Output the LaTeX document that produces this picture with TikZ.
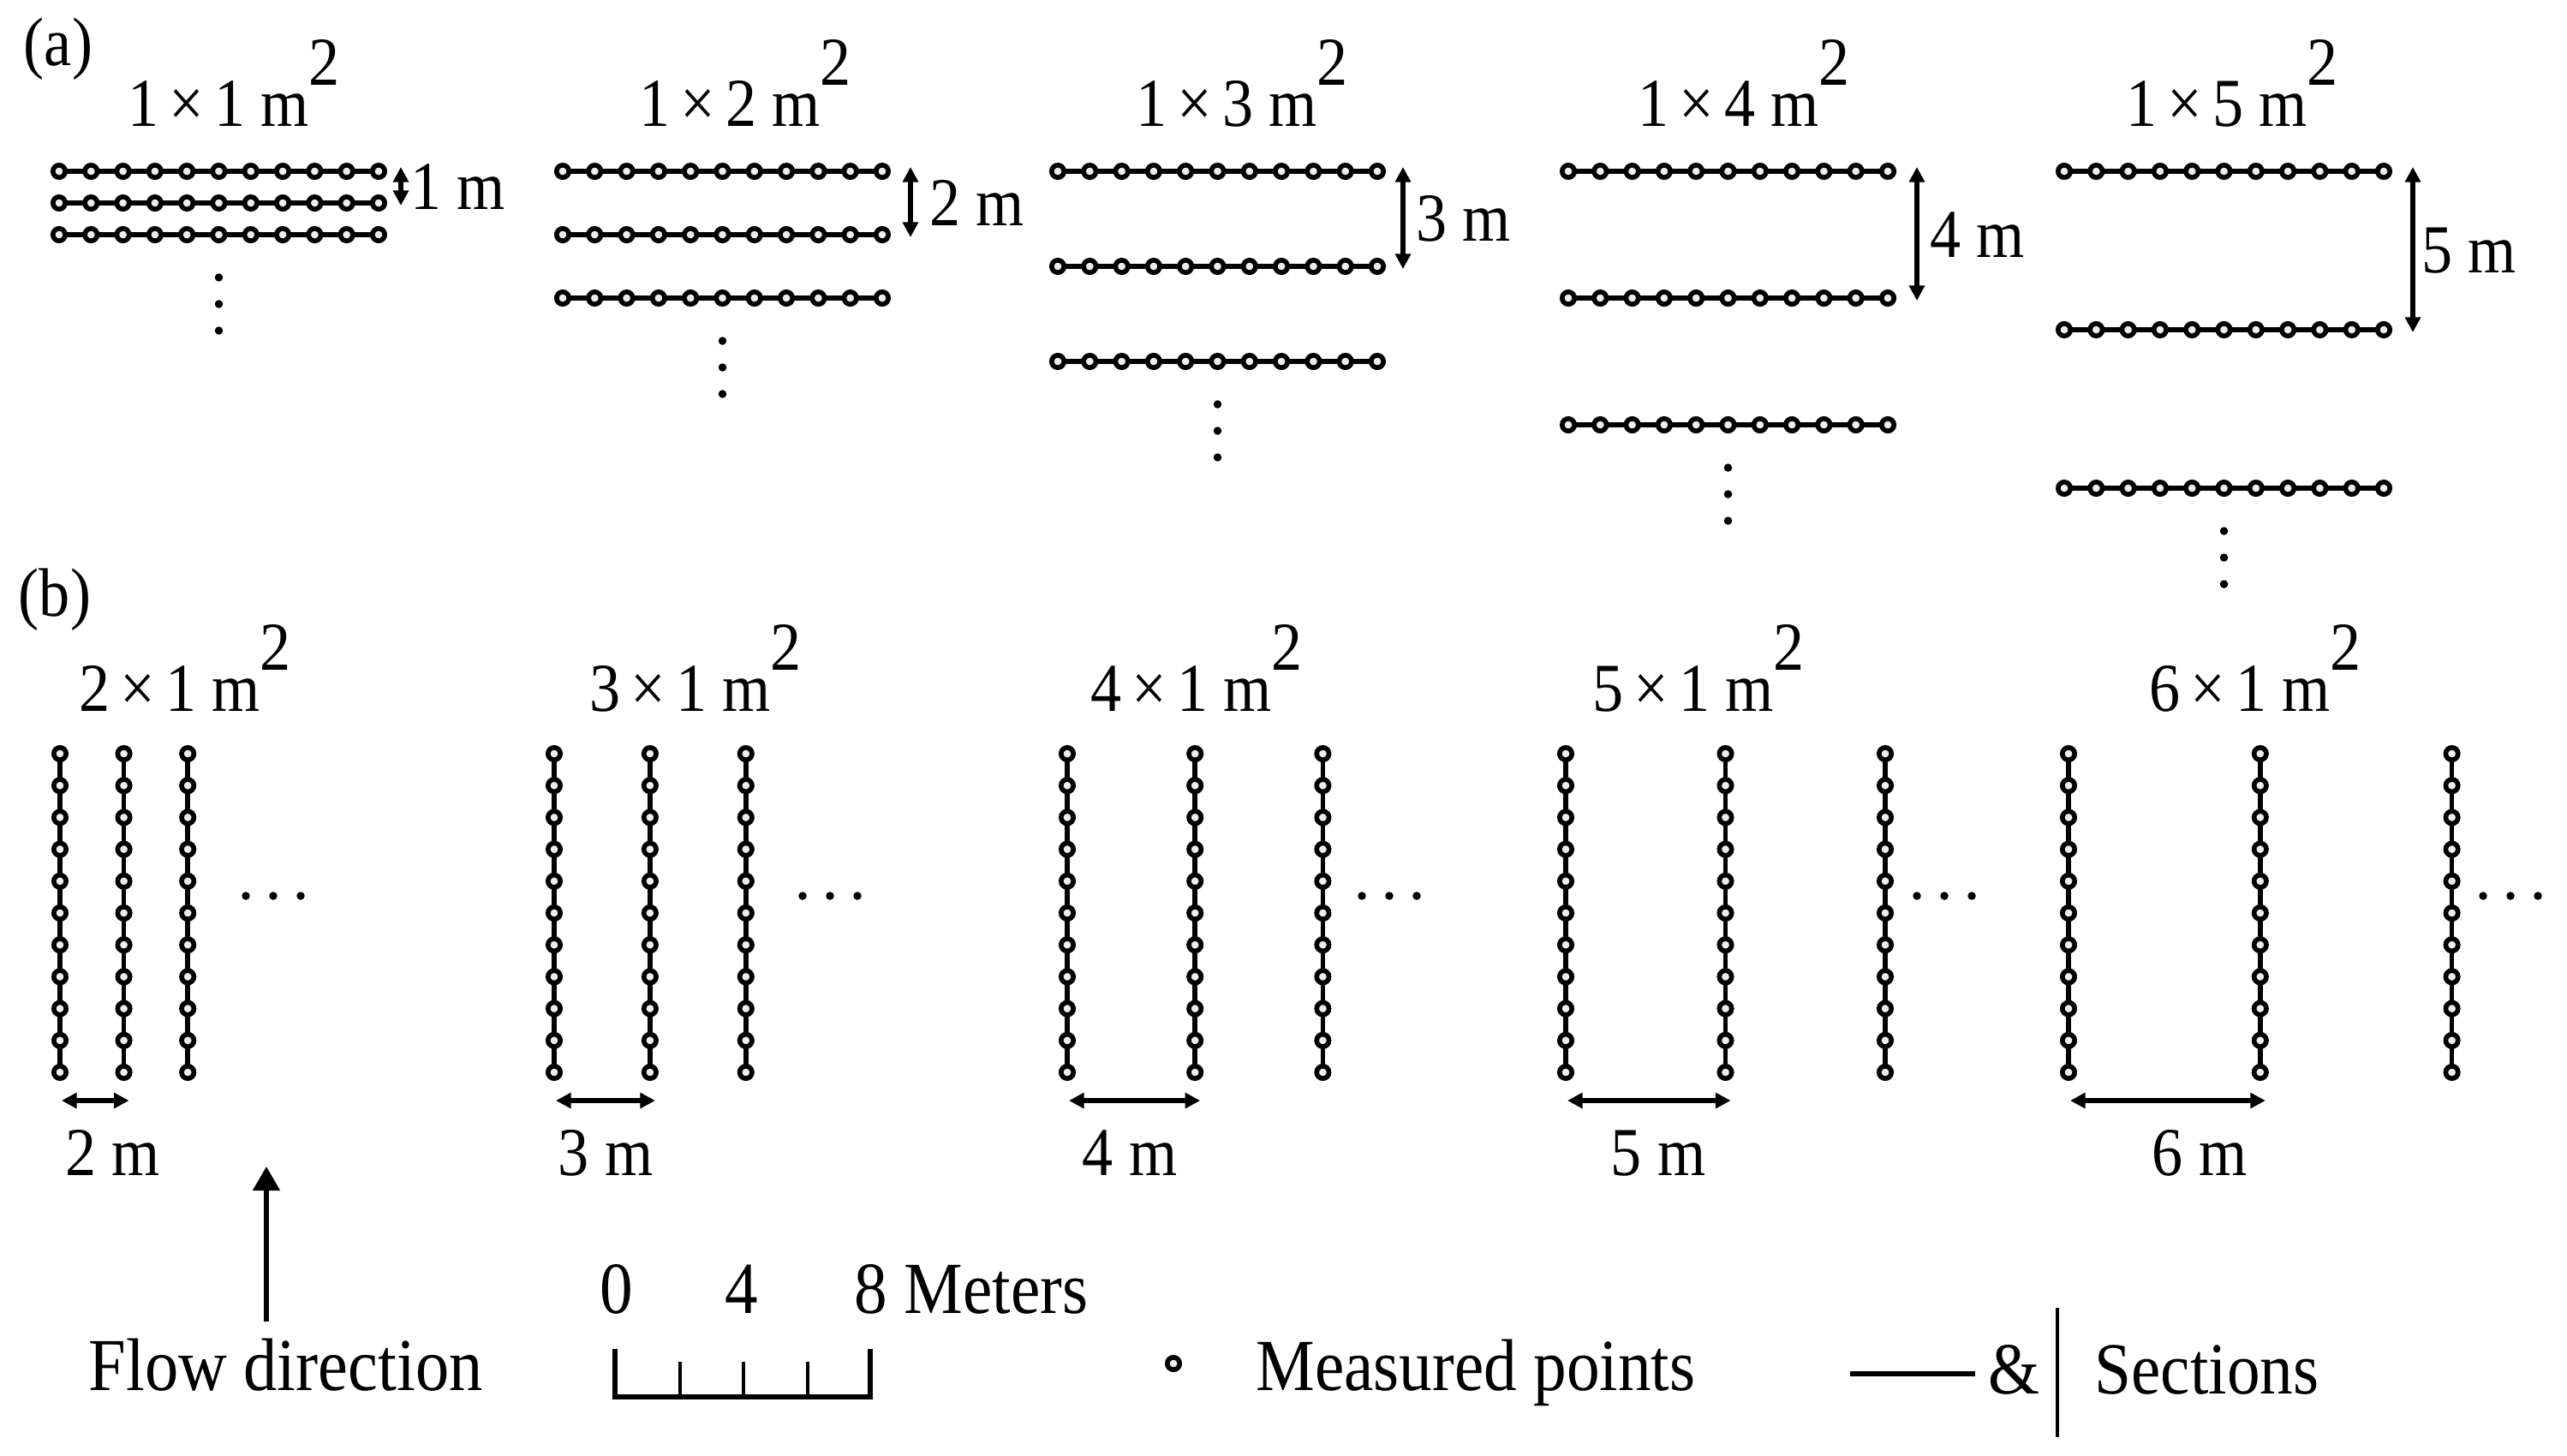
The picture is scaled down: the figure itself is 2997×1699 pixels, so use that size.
\documentclass[tikz,border=0pt]{standalone}
\usepackage{fontspec}
\setmainfont[FakeStretch=0.9]{Liberation Serif}
\usetikzlibrary{arrows.meta}
\newcommand\labfont{\fontsize{22.8}{26}\selectfont}
\newcommand\legfont{\fontsize{24.4}{28}\selectfont}
\newcommand\flowfont{\fontsize{24.8}{28}\selectfont}
\newcommand\areatitle[2]{#1\hspace{0.15em}×\hspace{0.15em}#2 m\raisebox{0.59em}{2}}
\tikzset{
  conn/.style={line width=1.6pt},
  pt/.style={line width=1.6pt, draw=black, fill=gray!14},
  lab/.style={font=\labfont, inner sep=0pt},
  leg/.style={font=\legfont, inner sep=0pt},
  dimar/.style={line width=1.5pt, {Triangle[length=5pt,width=5pt]}-{Triangle[length=5pt,width=5pt]}},
  dimarb/.style={line width=1.9pt, {Triangle[length=5pt,width=5pt]}-{Triangle[length=5pt,width=5pt]}},
  flowar/.style={line width=1.5pt, -{Triangle[length=8pt,width=8.8pt]}},
}
\begin{document}
\begin{tikzpicture}[x=0.01cm,y=-0.01cm]
\useasboundingbox (0,0) rectangle (2997,1699);
% panel labels
\node[lab] (pa) at (68,57) {(a)};
\node[lab] (pb) at (64,700) {(b)};
% ---------------- part (a)
\foreach \gx/\gn/\gax/\glx/\gtx in {69/1/468/479/149, 657/2/1063/1085/746, 1235/3/1638/1653/1326, 1831/4/2238/2253/1912, 2410/5/2817/2827/2482}{
  \pgfmathsetmacro\gsp{37*\gn}
  \foreach \r in {0,1,2}{
    \pgfmathsetmacro\yy{200+\gsp*\r}
    \draw[conn] (\gx,\yy) -- ++(373,0);
    \foreach \i in {0,...,10}{\draw[pt] (\gx+37.3*\i,\yy) circle[radius=2.05pt];}
  }
  \foreach \k in {0,1,2}{\fill (\gx+186.5,200+2*\gsp+50+31*\k) circle[radius=1.35pt];}
  \coordinate (at\gn) at (\gax,195);
  \coordinate (ab\gn) at (\gax,200+\gsp+3);
  \draw[dimar] (at\gn) -- (ab\gn);
  \node[lab, anchor=west] (al\gn) at (\glx,200+\gsp/2) {\gn\ m};
  \node[lab, anchor=base west] (ta\gn) at (\gtx,147) {\areatitle{1}{\gn}};
}
% ---------------- part (b)
\foreach \gx/\gn/\gex/\glc/\gtx in {70/2/287/132/92, 647/3/937/707/688, 1246/4/1590/1319/1273, 1828/5/2238/1936/1859, 2415/6/2899/2568/2509}{
  \pgfmathsetmacro\gsp{37.3*\gn}
  \foreach \c in {0,1,2}{
    \pgfmathsetmacro\xx{\gx+\gsp*\c}
    \draw[conn] (\xx,880) -- (\xx,1252);
    \foreach \i in {0,...,10}{\draw[pt] (\xx,880+37.2*\i) circle[radius=2.05pt];}
  }
  \foreach \k in {0,1,2}{\fill (\gex+32*\k,1046) circle[radius=1.35pt];}
  \coordinate (bl\gn) at (\gx+2,1285);
  \coordinate (br\gn) at (\gx+\gsp+6,1285);
  \draw[dimarb] (bl\gn) -- (br\gn);
  \node[lab, anchor=base] (bm\gn) at (\glc,1372) {\gn\ m};
  \node[lab, anchor=base west] (tb\gn) at (\gtx,830) {\areatitle{\gn}{1}};
}
% ---------------- legend
\node[font=\flowfont, inner sep=0pt, anchor=base west] (flow) at (103,1623) {Flow direction};
\coordinate (fb) at (311,1543);
\coordinate (ft) at (311,1362);
\draw[flowar] (fb) -- (ft);
\node[leg, anchor=base] (s0) at (720,1533) {0};
\node[leg, anchor=base] (s4) at (866,1533) {4};
\node[leg, anchor=base west] (s8) at (997,1533) {8 Meters};
\draw[line width=1.6pt] (718,1575) -- (718,1631) -- (1016,1631) -- (1016,1575);
\foreach \x in {794,868,943}{\draw[line width=1.2pt] (\x,1590) -- (\x,1631);}
\draw[pt] (1370,1592) circle[radius=2.05pt];
\node[leg, anchor=base west] (mp) at (1466,1623) {Measured points};
\draw[line width=1.5pt] (2160,1604) -- (2306,1604);
\node[leg, anchor=base west] (amp) at (2321,1627) {\&};
\draw[line width=1.1pt] (2402,1527) -- (2402,1678);
\node[leg, anchor=base west] (sec) at (2445,1627) {Sections};
\end{tikzpicture}
\end{document}
